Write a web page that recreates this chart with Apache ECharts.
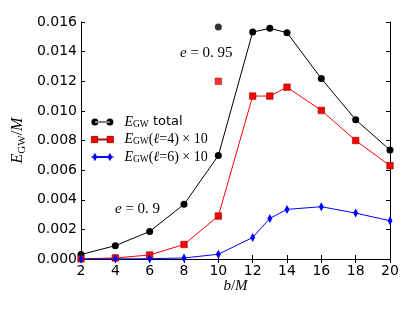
<!DOCTYPE html>
<html>
<head>
<meta charset="utf-8">
<script src="https://cdn.jsdelivr.net/npm/echarts@6/dist/echarts.min.js"></script>
<style>html,body{margin:0;padding:0;background:#fff}#c{width:415px;height:312px}</style>
</head>
<body>
<div id="c"></div>
<script>
// b/M positions
var bTotal = [2, 4, 6, 8, 10, 12, 13, 14, 16, 18, 20];
var eTotal = [0.0003, 0.0009, 0.00186, 0.00369, 0.00698, 0.01532, 0.01557, 0.01528, 0.01218, 0.0094, 0.00736];
var bL4 = [2, 4, 6, 8, 10, 12, 13, 14, 16, 18, 20];
var eL4 = [0.00001, 0.00007, 0.00027, 0.00098, 0.0029, 0.0110, 0.0110, 0.0116, 0.01003, 0.0080, 0.0063];
var bL6 = [2, 4, 6, 8, 10, 12, 13, 14, 16, 18, 20];
var eL6 = [0.0, 0.00001, 0.00002, 0.00007, 0.00032, 0.00145, 0.00274, 0.00335, 0.00353, 0.0031, 0.00258];
// isolated e = 0.95 points at b/M = 10
var b95 = [10];
var eTotal95 = [0.01566];
var eL495 = [0.0120];
var xTicks = [2, 4, 6, 8, 10, 12, 14, 16, 18, 20];
var yTicks = [0, 0.002, 0.004, 0.006, 0.008, 0.010, 0.012, 0.014, 0.016];

function pairs(xs, ys) { return xs.map(function (x, i) { return [x, ys[i]]; }); }

var serif = 'Liberation Serif';
var sans = 'DejaVu Sans';
var richBase = {
  i: { fontFamily: serif, fontStyle: 'italic', fontSize: 14, color: '#000', lineHeight: 14, verticalAlign: 'middle' },
  n: { fontFamily: serif, fontSize: 14, color: '#000', lineHeight: 14, verticalAlign: 'middle' },
  s: { fontFamily: serif, fontSize: 9.5, color: '#000', lineHeight: 6, verticalAlign: 'bottom' },
  t: { fontFamily: sans, fontSize: 13, color: '#000', lineHeight: 14, verticalAlign: 'middle' }
};

var chart = echarts.init(document.getElementById('c'), null, { renderer: 'canvas' });

var iconCircle = 'path://M0,3.5a3.5,3.5 0 1,0 7,0a3.5,3.5 0 1,0 -7,0Z M15,3.5a3.5,3.5 0 1,0 7,0a3.5,3.5 0 1,0 -7,0Z M3.5,3 L18.5,3 L18.5,4 L3.5,4Z';
var iconRect = 'path://M0.5,0.5 L6.5,0.5 L6.5,6.5 L0.5,6.5Z M15.5,0.5 L21.5,0.5 L21.5,6.5 L15.5,6.5Z M6,3 L16,3 L16,4 L6,4Z';
var iconDiam = 'path://M3.5,0 L5.5,3.5 L3.5,7 L1.5,3.5Z M18.5,0 L20.5,3.5 L18.5,7 L16.5,3.5Z M3.5,3 L18.5,3 L18.5,4 L3.5,4Z M0,3.5 L22,3.5 L22,3.5 L0,3.5Z';

var axisCommon = {
  axisLine: { show: true, lineStyle: { color: '#000', width: 1 } },
  axisTick: { show: true, inside: true, length: 4, lineStyle: { color: '#000', width: 1 } },
  splitLine: { show: false }
};

var option = {
  animation: false,
  backgroundColor: '#fff',
  grid: { left: 81, right: 25, top: 22, bottom: 53, containLabel: false },
  xAxis: [
    Object.assign({
      type: 'value', min: 2, max: 20, interval: 2, position: 'bottom',
      name: '{i|b}{n|/}{i|M}', nameLocation: 'middle', nameGap: 20, nameMoveOverlap: false,
      nameTextStyle: { rich: {
        i: { fontFamily: serif, fontStyle: 'italic', fontSize: 15, color: '#000' },
        n: { fontFamily: serif, fontSize: 15, color: '#000' } } },
      axisLabel: { margin: 5, fontFamily: sans, fontSize: 14, color: '#000',
        formatter: function (v) { return xTicks.indexOf(v) >= 0 ? String(v) : ''; } }
    }, axisCommon),
    Object.assign({
      type: 'value', min: 2, max: 20, interval: 2, position: 'top',
      axisLabel: { show: false }
    }, axisCommon)
  ],
  yAxis: [
    Object.assign({
      type: 'value', min: 0, max: 0.016, interval: 0.002, position: 'left',
      name: '{i|E}{s|GW}{n|/}{i|M}', nameLocation: 'middle', nameGap: 53, nameRotate: 90, nameMoveOverlap: false,
      nameTextStyle: { rich: {
        i: { fontFamily: serif, fontStyle: 'italic', fontSize: 16, color: '#000', lineHeight: 20, verticalAlign: 'middle' },
        n: { fontFamily: serif, fontSize: 16, color: '#000', lineHeight: 20, verticalAlign: 'middle' },
        s: { fontFamily: serif, fontSize: 11, color: '#000', lineHeight: 8, verticalAlign: 'bottom' } } },
      axisLabel: { margin: 4, fontFamily: sans, fontSize: 14, color: '#000',
        formatter: function (v) { return v.toFixed(3); } }
    }, axisCommon),
    Object.assign({
      type: 'value', min: 0, max: 0.016, interval: 0.002, position: 'right',
      axisLabel: { show: false }
    }, axisCommon)
  ],
  legend: {
    orient: 'vertical', left: 91, top: 115, itemGap: 3.5, itemWidth: 22, itemHeight: 7,
    padding: 0,
    data: [
      { name: 'total', icon: iconCircle, itemStyle: { color: '#000', borderWidth: 0 } },
      { name: 'l4', icon: iconRect, itemStyle: { color: '#ff0000', borderWidth: 0.8, borderColor: '#8b0000' } },
      { name: 'l6', icon: iconDiam, itemStyle: { color: '#0000ff', borderWidth: 0.8, borderColor: '#0000ff' } }
    ],
    formatter: function (name) {
      if (name === 'total') return '{i|E}{s|GW}{t| total}';
      if (name === 'l4') return '{i|E}{s|GW}{n|(}{i|ℓ}{n|=4) × 10}';
      return '{i|E}{s|GW}{n|(}{i|ℓ}{n|=6) × 10}';
    },
    textStyle: { rich: richBase, padding: [0, 0, 0, 6] },
    itemStyle: { borderWidth: 0 }
  },
  graphic: [
    { type: 'text', left: 180, top: 46, style: { text: '{i|e}{n| = 0. 95}', rich: {
      i: { fontFamily: serif, fontStyle: 'italic', fontSize: 15, color: '#000' },
      n: { fontFamily: serif, fontSize: 15, color: '#000' } } } },
    { type: 'text', left: 115, top: 202, style: { text: '{i|e}{n| = 0. 9}', rich: {
      i: { fontFamily: serif, fontStyle: 'italic', fontSize: 15, color: '#000' },
      n: { fontFamily: serif, fontSize: 15, color: '#000' } } } }
  ],
  series: [
    { name: 'total', type: 'line', data: pairs(bTotal, eTotal), symbol: 'circle', symbolSize: 7,
      itemStyle: { color: '#000' }, lineStyle: { color: '#000', width: 1 }, z: 2 },
    { name: 'l4', type: 'line', data: pairs(bL4, eL4), symbol: 'rect', symbolSize: 6.5,
      itemStyle: { color: '#ff0000', borderColor: '#8b0000', borderWidth: 0.6 }, lineStyle: { color: '#ff0000', width: 1 }, z: 3 },
    { name: 'l6', type: 'line', data: pairs(bL6, eL6), symbol: 'diamond', symbolSize: [5, 9],
      itemStyle: { color: '#0000ff' }, lineStyle: { color: '#0000ff', width: 1 }, z: 4 },
    { name: 'total95', type: 'scatter', data: pairs(b95, eTotal95), symbol: 'circle', symbolSize: 7,
      itemStyle: { color: '#000' }, z: 2 },
    { name: 'l495', type: 'scatter', data: pairs(b95, eL495), symbol: 'rect', symbolSize: 6.5,
      itemStyle: { color: '#ff0000', borderColor: '#8b0000', borderWidth: 0.6 }, z: 3 }
  ]
};
chart.setOption(option);
</script>
</body>
</html>
